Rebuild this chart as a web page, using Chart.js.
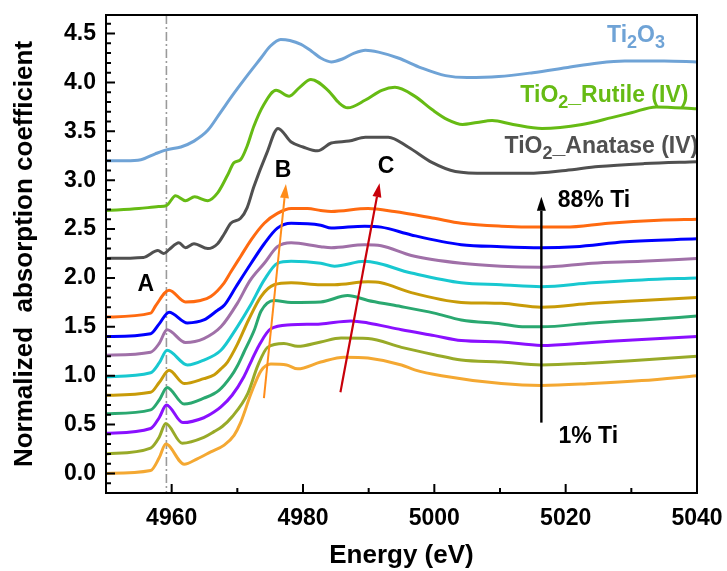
<!DOCTYPE html>
<html>
<head>
<meta charset="utf-8">
<script src="https://cdn.jsdelivr.net/npm/chart.js@4/dist/chart.umd.min.js"></script>
<style>
  html,body{margin:0;padding:0;background:#fff;}
  canvas{display:block;}
</style>
</head>
<body>
<canvas id="c" width="727" height="571"></canvas>
<script>
// ---------------- DATA (energy eV, normalized absorption) ----------------
const xTicks = [4960, 4980, 5000, 5020, 5040];
const xMinorTicks = [4970, 4990, 5010, 5030];
const yTicks = [0.0, 0.5, 1.0, 1.5, 2.0, 2.5, 3.0, 3.5, 4.0, 4.5];

const ti2o3 = [[4950,3.20],[4953,3.20],[4955.3,3.21],[4957.5,3.27],[4959.2,3.31],[4961.4,3.34],[4963.4,3.40],[4965.5,3.51],[4967.5,3.70],[4969.5,3.89],[4971.5,4.07],[4973.6,4.25],[4975,4.37],[4976.6,4.44],[4978,4.43],[4979.7,4.39],[4981.3,4.32],[4982.7,4.25],[4984.3,4.21],[4986,4.24],[4987.8,4.30],[4989.5,4.33],[4991.5,4.31],[4994.5,4.25],[4998,4.15],[5001.7,4.07],[5005,4.05],[5009.8,4.06],[5015,4.10],[5020,4.15],[5025,4.20],[5029,4.22],[5035,4.22],[5040,4.21]];
const rutile = [[4950,2.69],[4955,2.71],[4958,2.73],[4959.2,2.74],[4960.6,2.84],[4962.1,2.79],[4963.5,2.83],[4965.5,2.79],[4967,2.87],[4968.5,3.05],[4969.5,3.18],[4970.5,3.21],[4971.5,3.35],[4972.5,3.55],[4974,3.77],[4975.9,3.92],[4977.9,3.86],[4979.5,3.95],[4981.2,4.03],[4983.8,3.92],[4985.5,3.79],[4986.8,3.74],[4989.5,3.82],[4992,3.92],[4994,3.95],[4997,3.86],[4999.7,3.72],[5002,3.62],[5004.3,3.57],[5006.5,3.59],[5008.8,3.61],[5012,3.57],[5016.4,3.53],[5022.5,3.57],[5027,3.64],[5030,3.69],[5033.8,3.75],[5040,3.73]];
const anatase = [[4950,2.20],[4955.7,2.21],[4957.9,2.28],[4958.8,2.25],[4959.6,2.29],[4961.1,2.36],[4962.1,2.31],[4963.4,2.35],[4965.5,2.30],[4967,2.35],[4968,2.45],[4969,2.56],[4970.5,2.61],[4971.5,2.72],[4972.5,2.93],[4974.5,3.28],[4976.2,3.53],[4978.2,3.39],[4980,3.34],[4982.2,3.30],[4984.3,3.38],[4987,3.40],[4989.5,3.44],[4993,3.44],[4996,3.34],[4999.7,3.18],[5003.2,3.09],[5008,3.07],[5014.3,3.07],[5020,3.10],[5025,3.14],[5032,3.17],[5040,3.19]];

const ti88 = [[4950,1.60],[4956.8,1.64],[4957.6,1.72],[4959.6,1.875],[4962.1,1.755],[4964.4,1.77],[4965.95,1.81],[4968.0,1.95],[4969.0,2.06],[4970.5,2.22],[4972.1,2.39],[4974.1,2.56],[4976.1,2.66],[4978.2,2.71],[4980.7,2.71],[4982.7,2.69],[4984.3,2.68],[4989.9,2.71],[4993.9,2.68],[5000.0,2.61],[5004.1,2.56],[5010.2,2.53],[5016.3,2.52],[5019.9,2.52],[5026.5,2.56],[5034.2,2.59],[5040,2.60]];
const s2 = [[4950,1.40],[4956.8,1.43],[4958.1,1.53],[4959.6,1.65],[4962.4,1.54],[4964.9,1.57],[4967.0,1.67],[4968.0,1.72],[4969.8,1.91],[4972.1,2.15],[4974.1,2.35],[4976.1,2.51],[4978.2,2.56],[4982.7,2.54],[4984.3,2.51],[4989.4,2.53],[4991.9,2.52],[4996.5,2.44],[5004.1,2.34],[5010.2,2.32],[5016.3,2.31],[5021.4,2.32],[5029.1,2.37],[5040,2.40]];
const s3 = [[4950,1.21],[4956.8,1.24],[4958.1,1.33],[4959.3,1.47],[4962.1,1.34],[4964.9,1.38],[4967.5,1.50],[4970.0,1.74],[4971.9,1.97],[4974.1,2.15],[4976.1,2.32],[4978.2,2.36],[4982.7,2.32],[4984.3,2.31],[4989.4,2.34],[4991.9,2.33],[4996.5,2.23],[5004.1,2.15],[5010.2,2.12],[5016.3,2.11],[5024,2.15],[5031.6,2.17],[5040,2.20]];
const s4 = [[4950,0.99],[4956.8,1.03],[4958.1,1.13],[4959.3,1.26],[4962.4,1.11],[4964.9,1.16],[4967.5,1.26],[4970.0,1.50],[4972.0,1.72],[4974.1,1.98],[4976.1,2.15],[4978.2,2.17],[4982.7,2.15],[4984.8,2.12],[4989.4,2.17],[4996.5,2.05],[5004.1,1.95],[5010.2,1.93],[5016.3,1.91],[5024,1.95],[5031.6,1.98],[5040,2.00]];
const s5 = [[4950,0.80],[4956.8,0.83],[4958.1,0.93],[4959.6,1.055],[4961.9,0.92],[4964.9,0.97],[4966.5,1.01],[4967.5,1.07],[4968.5,1.14],[4970.0,1.32],[4971.7,1.57],[4973.6,1.81],[4975.6,1.93],[4978.2,1.95],[4982.7,1.93],[4984.8,1.93],[4989.9,1.96],[4991.9,1.95],[4996.5,1.85],[5004.1,1.75],[5010.2,1.74],[5016.3,1.70],[5024,1.74],[5031.6,1.77],[5040,1.80]];
const s6 = [[4950,0.61],[4956.8,0.65],[4958.1,0.75],[4959.3,0.88],[4961.9,0.71],[4964.9,0.77],[4967.2,0.85],[4969.0,0.99],[4970.0,1.10],[4971.0,1.24],[4972.6,1.47],[4973.6,1.66],[4975.6,1.77],[4978.2,1.75],[4982.7,1.755],[4986.8,1.82],[4989.9,1.77],[4993.9,1.72],[5000,1.64],[5004.1,1.57],[5010.2,1.53],[5013.8,1.50],[5016.3,1.50],[5024,1.54],[5031.6,1.57],[5040,1.61]];
const s7 = [[4950,0.41],[4956.8,0.46],[4958.1,0.57],[4959.2,0.70],[4961.7,0.52],[4964.9,0.57],[4966.5,0.63],[4967.5,0.68],[4969.2,0.80],[4971.0,0.99],[4972.2,1.16],[4973.3,1.31],[4975.1,1.48],[4978.2,1.52],[4982.7,1.53],[4987.3,1.56],[4989.9,1.54],[4995,1.47],[5000,1.41],[5004.1,1.36],[5010.2,1.345],[5016.3,1.31],[5024,1.34],[5031.6,1.37],[5040,1.40]];
const s8 = [[4950,0.20],[4956.8,0.26],[4958.1,0.37],[4959.1,0.51],[4961.6,0.31],[4964.9,0.37],[4966.5,0.43],[4967.7,0.48],[4969.2,0.58],[4971.6,0.82],[4973.1,1.10],[4974.6,1.29],[4977.1,1.33],[4979.2,1.30],[4982.7,1.345],[4985.8,1.385],[4989.9,1.38],[4995,1.29],[5000,1.215],[5004.1,1.16],[5010.2,1.14],[5016.3,1.11],[5024,1.13],[5031.6,1.16],[5040,1.20]];
const ti1 = [[4950,0.00],[4956.8,0.03],[4958.1,0.16],[4959.1,0.30],[4961.9,0.095],[4963.9,0.15],[4965.95,0.22],[4968.0,0.29],[4969.5,0.39],[4970.5,0.52],[4972.1,0.82],[4973.6,1.05],[4975.1,1.12],[4977.5,1.11],[4979.2,1.07],[4982.7,1.14],[4986.3,1.19],[4989.9,1.18],[4995,1.11],[4997,1.06],[5001.1,1.00],[5010.2,0.92],[5016.3,0.90],[5024,0.92],[5031.6,0.95],[5040,1.00]];

const seriesNames = ['Ti2O3','TiO2_Rutile (IV)','TiO2_Anatase (IV)','88% Ti','s2','s3','s4','s5','s6','s7','s8','1% Ti'];
const seriesData = [ti2o3, rutile, anatase, ti88, s2, s3, s4, s5, s6, s7, s8, ti1];
const seriesColors = ['#6fa3d6','#66bb14','#505050','#ff6a10','#0000ff','#a070a8','#18c8d0','#c89b08','#2aa870','#8a10ff','#98aa28','#f4a832'];

// annotation anchors (data coordinates)
const refLineE = 4959.2;
const arrows = [
  {from:[4974.05,0.77], to:[4977.4,2.96], color:'#ff8c1a', w:2},
  {from:[4985.7,0.83], to:[4991.65,2.97], color:'#c8000a', w:2.2},
  {from:[5016.3,0.52], to:[5016.3,2.83], color:'#000000', w:2.4}
];
const labels = [
  {at:[5026.3,4.41], color:'#6fa3d6', parts:[['Ti'],['2',1],['O'],['3',1]]},
  {at:[5013.1,3.80], color:'#66bb14', parts:[['TiO'],['2',1],['_Rutile (IV)']]},
  {at:[5010.7,3.28], color:'#505050', parts:[['TiO'],['2',1],['_Anatase (IV)']]},
  {at:[5018.8,2.73], color:'#000', parts:[['88% Ti']]},
  {at:[5018.9,0.31], color:'#000', parts:[['1% Ti']]},
  {at:[4954.8,1.865], color:'#000', parts:[['A']]},
  {at:[4975.7,3.03], color:'#000', parts:[['B']]},
  {at:[4991.4,3.07], color:'#000', parts:[['C']]}
];

// ---------------- CHART ----------------
const FAM = '"Liberation Sans", Arial, Helvetica, sans-serif';

const decor = {
  id: 'decor',
  beforeDatasetsDraw(chart) {
    const {ctx, chartArea: a, scales: {x}} = chart;
    const px = x.getPixelForValue(refLineE);
    ctx.save();
    ctx.strokeStyle = '#9a9a9a';
    ctx.lineWidth = 1.6;
    ctx.setLineDash([9, 3, 2, 3]);
    ctx.beginPath(); ctx.moveTo(px, a.top); ctx.lineTo(px, a.bottom); ctx.stroke();
    ctx.restore();
  },
  afterDatasetsDraw(chart) {
    const {ctx, scales: {x, y}} = chart;
    ctx.save();
    arrows.forEach(ar => {
      const x1 = x.getPixelForValue(ar.from[0]), y1 = y.getPixelForValue(ar.from[1]);
      const x2 = x.getPixelForValue(ar.to[0]), y2 = y.getPixelForValue(ar.to[1]);
      const ang = Math.atan2(y2 - y1, x2 - x1);
      const hl = 14, hw = 4.5;
      const bx = x2 - hl * Math.cos(ang), by = y2 - hl * Math.sin(ang);
      ctx.strokeStyle = ar.color; ctx.fillStyle = ar.color; ctx.lineWidth = ar.w;
      ctx.beginPath(); ctx.moveTo(x1, y1); ctx.lineTo(bx, by); ctx.stroke();
      ctx.beginPath();
      ctx.moveTo(x2, y2);
      ctx.lineTo(bx + hw * Math.sin(ang), by - hw * Math.cos(ang));
      ctx.lineTo(bx - hw * Math.sin(ang), by + hw * Math.cos(ang));
      ctx.closePath(); ctx.fill();
    });
    ctx.textBaseline = 'alphabetic';
    ctx.textAlign = 'left';
    labels.forEach(lb => {
      let cx = x.getPixelForValue(lb.at[0]);
      const cy = y.getPixelForValue(lb.at[1]);
      ctx.fillStyle = lb.color;
      lb.parts.forEach(p => {
        const sub = p[1] === 1;
        ctx.font = 'bold ' + (sub ? 18 : 23) + 'px ' + FAM;
        ctx.fillText(p[0], cx, cy + (sub ? 6 : 0));
        cx += ctx.measureText(p[0]).width;
      });
    });
    ctx.restore();
  },
  afterDraw(chart) {
    const {ctx, chartArea: a, scales: {x, y}} = chart;
    ctx.save();
    ctx.strokeStyle = '#000';
    ctx.lineWidth = 2;
    ctx.beginPath();
    xTicks.forEach(v => { const p = x.getPixelForValue(v); ctx.moveTo(p, a.bottom); ctx.lineTo(p, a.bottom - 9); });
    xMinorTicks.forEach(v => { const p = x.getPixelForValue(v); ctx.moveTo(p, a.bottom); ctx.lineTo(p, a.bottom - 5); });
    yTicks.forEach(v => { const p = y.getPixelForValue(v); ctx.moveTo(a.left, p); ctx.lineTo(a.left + 9, p); });
    for (let i = -1; i <= 46; i++) {
      if (i % 5 === 0) continue;
      const p = y.getPixelForValue(i / 10);
      if (p < a.top || p > a.bottom) continue;
      ctx.moveTo(a.left, p); ctx.lineTo(a.left + 5, p);
    }
    ctx.stroke();
    ctx.strokeRect(a.left, a.top, a.right - a.left, a.bottom - a.top);
    ctx.restore();
  }
};

new Chart(document.getElementById('c'), {
  type: 'line',
  data: {
    datasets: seriesData.map((d, i) => ({
      label: seriesNames[i],
      data: d.map(p => ({x: p[0], y: p[1]})),
      borderColor: seriesColors[i],
      borderWidth: 3,
      pointRadius: 0,
      fill: false,
      cubicInterpolationMode: 'monotone'
    }))
  },
  options: {
    responsive: false,
    animation: false,
    layout: {padding: {top: 15, right: 30, left: 0, bottom: 0}},
    plugins: {legend: {display: false}, tooltip: {enabled: false}},
    scales: {
      x: {
        type: 'linear', min: 4950, max: 5040,
        afterBuildTicks: s => { s.ticks = xTicks.map(v => ({value: v})); },
        afterFit: s => { s.height = 78; s.paddingLeft = 0; s.paddingRight = 0; },
        grid: {display: false, drawTicks: false},
        border: {display: false},
        ticks: {font: {family: FAM, size: 23, weight: 'bold'}, color: '#000', padding: 12, maxRotation: 0, autoSkip: false, callback: v => String(v)},
        title: {display: true, text: 'Energy (eV)', font: {family: FAM, size: 26, weight: 'bold'}, color: '#000', padding: {top: 0, bottom: 0}}
      },
      y: {
        type: 'linear', min: -0.2, max: 4.69,
        afterBuildTicks: s => { s.ticks = yTicks.map(v => ({value: v})); },
        afterFit: s => { s.width = 106; s.paddingTop = 0; s.paddingBottom = 0; },
        grid: {display: false, drawTicks: false},
        border: {display: false},
        ticks: {font: {family: FAM, size: 23, weight: 'bold'}, color: '#000', padding: 10, autoSkip: false, callback: v => Number(v).toFixed(1)},
        title: {display: true, text: 'Normalized  absorption coefficient', font: {family: FAM, size: 26, weight: 'bold'}, color: '#000', padding: {top: 9, bottom: 4}}
      }
    }
  },
  plugins: [decor]
});
</script>
</body>
</html>
